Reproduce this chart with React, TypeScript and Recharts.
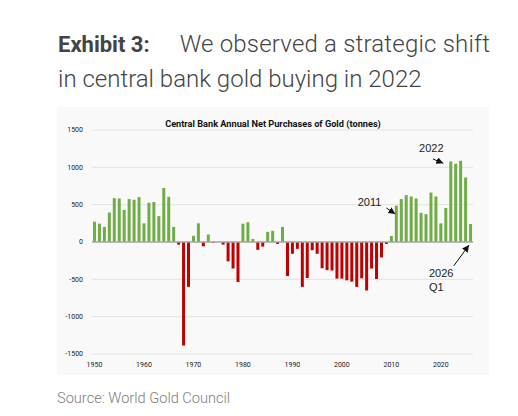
import React from "react";
import {
  Bar,
  BarChart,
  CartesianGrid,
  Cell,
  ReferenceDot,
  ReferenceLine,
  XAxis,
  YAxis,
} from "recharts";

const years = [
  1950, 1951, 1952, 1953, 1954, 1955, 1956, 1957, 1958, 1959,
  1960, 1961, 1962, 1963, 1964, 1965, 1966, 1967, 1968, 1969,
  1970, 1971, 1972, 1973, 1974, 1975, 1976, 1977, 1978, 1979,
  1980, 1981, 1982, 1983, 1984, 1985, 1986, 1987, 1988, 1989,
  1990, 1991, 1992, 1993, 1994, 1995, 1996, 1997, 1998, 1999,
  2000, 2001, 2002, 2003, 2004, 2005, 2006, 2007, 2008, 2009,
  2010, 2011, 2012, 2013, 2014, 2015, 2016, 2017, 2018, 2019,
  2020, 2021, 2022, 2023, 2024, 2025, 2026,
];

// tonnes
const purchases = [
  272, 246, 202, 395, 588, 583, 430, 575, 566, 601,
  250, 526, 535, 346, 724, 605, 202, -35, -1386, -601,
  83, 250, -57, 101, -12, 0, -35, -259, -355, -535,
  245, 265, 40, -105, -61, 136, 149, -26, 202, -456,
  -158, -92, -601, -482, -110, -158, -351, -377, -382, -491,
  -491, -513, -531, -601, -487, -649, -355, -496, -206, -26,
  80, 487, 575, 627, 610, 583, 390, 373, 662, 610,
  250, 456, 1079, 1048, 1088, 864, 241,
];

const yearTicks = [1950, 1960, 1970, 1980, 1990, 2000, 2010, 2020];
const tonneTicks = [-1500, -1000, -500, 0, 500, 1000, 1500];

const data = years.map((year, i) => ({ year, tonnes: purchases[i] }));

const GREEN = "#70ad47";
const RED = "#c00000";

function Note({ cx, cy, text }: any) {
  return (
    <text
      x={cx}
      y={cy}
      fontFamily="'Liberation Sans', Arial, sans-serif"
      fontSize={11}
      fill="#222"
    >
      {text}
    </text>
  );
}

function Arrow(p: any) {
  return (
    <line
      x1={p.x1}
      y1={p.y1}
      x2={p.x2}
      y2={p.y2}
      stroke="#111"
      strokeWidth={1}
      markerEnd="url(#arrowHead)"
    />
  );
}

export default function App() {
  return (
    <div
      style={{
        position: "absolute",
        left: 0,
        top: 0,
        width: 518,
        height: 416,
        background: "#fff",
        fontFamily: "Roboto, sans-serif",
      }}
    >
      <svg width={0} height={0} style={{ position: "absolute" }}>
        <defs>
          <marker
            id="arrowHead"
            viewBox="0 0 10 10"
            refX={10}
            refY={5}
            markerWidth={7}
            markerHeight={7}
            markerUnits="userSpaceOnUse"
            orient="auto"
          >
            <path d="M0,0 L10,5 L0,10 z" fill="#111" />
          </marker>
        </defs>
      </svg>

      <div
        style={{
          position: "absolute",
          left: 58,
          top: 27,
          fontSize: 24,
          lineHeight: "34px",
          color: "#444",
          fontWeight: 300,
          whiteSpace: "nowrap",
        }}
      >
        <span style={{ fontWeight: 700, fontSize: 22 }}>Exhibit 3:</span>
        <span style={{ marginLeft: 30, letterSpacing: 0.2 }}>
          We observed a strategic shift
        </span>
        <br />
        in central bank gold buying in 2022
      </div>

      <div
        style={{
          position: "absolute",
          left: 57,
          top: 107,
          width: 432,
          height: 268,
          background: "#f9f9f9",
        }}
      >
        <div
          style={{
            position: "absolute",
            left: 0,
            width: 432,
            top: 12,
            textAlign: "center",
            fontSize: 9.2,
            lineHeight: "10px",
            fontWeight: 700,
            color: "#111",
          }}
        >
          Central Bank Annual Net Purchases of Gold (tonnes)
        </div>
        <BarChart
          width={432}
          height={268}
          data={data}
          margin={{ top: 23, right: 16, left: 0, bottom: 0 }}
        >
          <CartesianGrid vertical={false} stroke="#e2e2e2" />
          <XAxis
            dataKey="year"
            type="number"
            domain={[1949.5, 2026.5]}
            ticks={yearTicks}
            axisLine={false}
            tickLine={false}
            height={21}
            tick={{ fontSize: 7, fill: "#222" }}
          />
          <YAxis
            domain={[-1500, 1500]}
            ticks={tonneTicks}
            axisLine={false}
            tickLine={false}
            width={35}
            tickMargin={3}
            tick={{ fontSize: 7, fill: "#222" }}
          />
          <Bar dataKey="tonnes" barSize={3} isAnimationActive={false}>
            {data.map((d) => (
              <Cell key={d.year} fill={d.tonnes < 0 ? RED : GREEN} />
            ))}
          </Bar>
          <ReferenceLine y={0} stroke="#a6a6a6" strokeWidth={1.5} />
          <ReferenceLine
            segment={[
              { x: 2009, y: 455 },
              { x: 2010.8, y: 375 },
            ]}
            shape={Arrow}
          />
          <ReferenceLine
            segment={[
              { x: 2018.4, y: 1112 },
              { x: 2020.5, y: 1054 },
            ]}
            shape={Arrow}
          />
          <ReferenceLine
            segment={[
              { x: 2022.6, y: -321 },
              { x: 2025.7, y: -40 },
            ]}
            shape={Arrow}
          />
          <ReferenceDot
            x={2003.2}
            y={482}
            r={0}
            shape={(p: any) => <Note {...p} text="2011" />}
          />
          <ReferenceDot
            x={2015.6}
            y={1205}
            r={0}
            shape={(p: any) => <Note {...p} text="2022" />}
          />
          <ReferenceDot
            x={2017.6}
            y={-469}
            r={0}
            shape={(p: any) => <Note {...p} text="2026" />}
          />
          <ReferenceDot
            x={2017.6}
            y={-656}
            r={0}
            shape={(p: any) => <Note {...p} text="Q1" />}
          />
        </BarChart>
      </div>

      <div
        style={{
          position: "absolute",
          left: 57,
          top: 391,
          fontSize: 14.6,
          lineHeight: "15px",
          fontWeight: 300,
          color: "#808080",
          whiteSpace: "nowrap",
        }}
      >
        Source: World Gold Council
      </div>
    </div>
  );
}
